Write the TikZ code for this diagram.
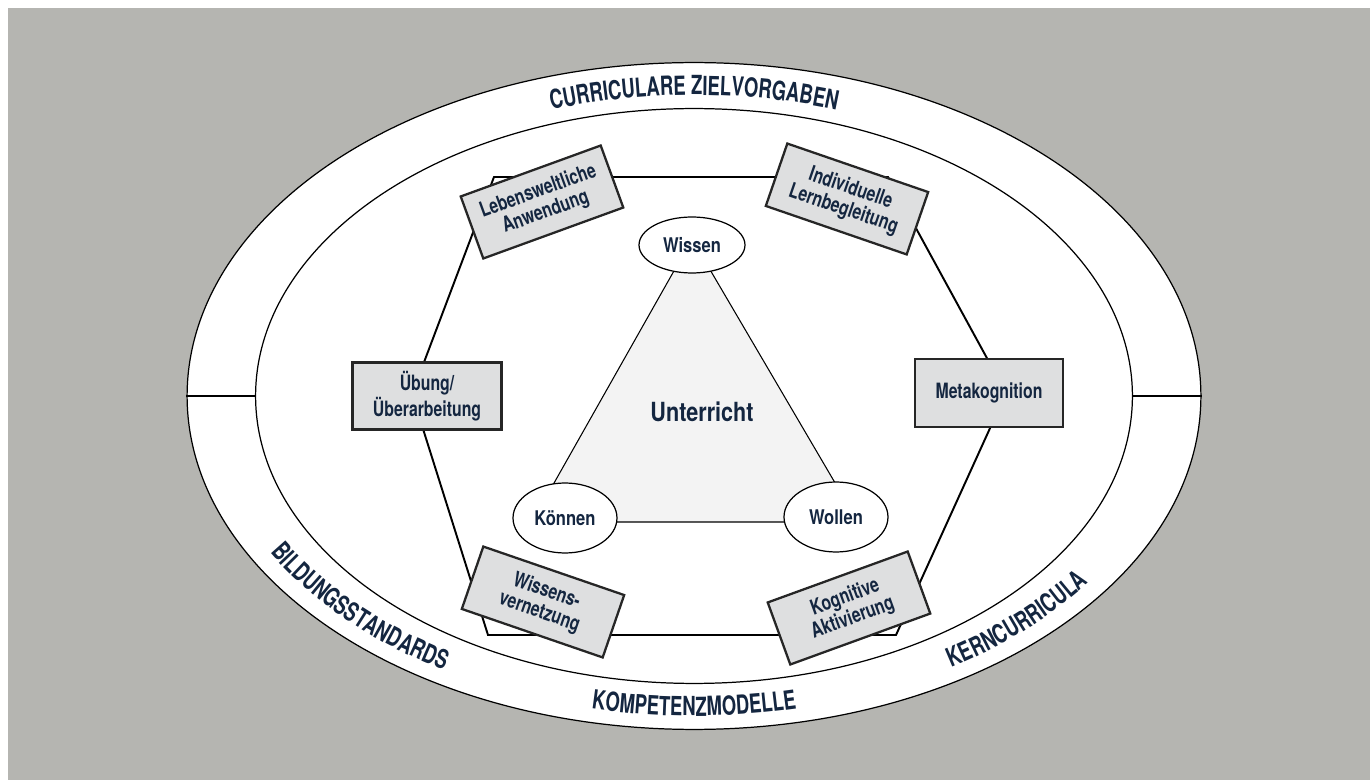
\documentclass[tikz,border=0pt]{standalone}
\usepackage{fontspec}
\setmainfont{TeX Gyre Heros}[FakeStretch=0.82]
\newfontfamily\cardfont{TeX Gyre Heros}[FakeStretch=0.75]
\newfontfamily\ringfont{TeX Gyre Heros}[FakeStretch=0.70]
\usetikzlibrary{shapes.geometric,decorations.text}

\definecolor{ink}{HTML}{142640}
\definecolor{panel}{RGB}{181,181,177}
\definecolor{cardfill}{RGB}{222,223,224}
\definecolor{trifill}{RGB}{243,243,243}
\newcommand{\ringtype}{\ringfont\bfseries\fontsize{15}{16}\selectfont}

\begin{document}
\begin{tikzpicture}[x=0.02cm,y=-0.02cm]
\tikzstyle{card}=[
	draw=black!85,
	line width=1.3pt,
	fill=cardfill,
	minimum width=2.98cm,
	minimum height=1.32cm,
	inner sep=0pt,
	align=center,
	text=ink,
	font=\cardfont\bfseries\fontsize{12}{12.5}\selectfont ]
\tikzstyle{oval}=[
	ellipse,
	draw,
	line width=0.7pt,
	fill=white,
	minimum width=2.08cm,
	minimum height=1.4cm,
	inner sep=0pt,
	text=ink,
	font=\bfseries\fontsize{11.5}{14}\selectfont ]
\tikzstyle{ring}=[ellipse, draw, line width=0.7pt, fill=white, inner sep=0pt]
\tikzstyle{ringlabel}=[decorate, decoration={text along path, text align=center, text color=ink}]

\useasboundingbox (0,0) rectangle (1370,780);
\fill[white] (0,0) rectangle (1370,780);
\fill[panel] (8,8) rectangle (1370,780);

\node[ring, minimum width=20.28cm, minimum height=13.34cm] (outer) at (694,396) {};
\node[ring, minimum width=17.54cm, minimum height=11.5cm] (inner) at (694,396) {};
\draw[line width=0.6pt] (outer.west) -- (inner.west);
\draw[line width=0.6pt] (inner.east) -- (outer.east);

\path[ringlabel, decoration={text={|\ringtype|CURRICULARE ZIELVORGABEN}}]
	(694,396) ++(235:458 and 301) arc[start angle=235, end angle=305, x radius=458, y radius=301];
\path[ringlabel, decoration={text={|\ringtype|BILDUNGSSTANDARDS}}]
	(694,396) ++(168:486 and 320) arc[start angle=168, end angle=108, x radius=486, y radius=320];
\path[ringlabel, decoration={text={|\ringtype|KOMPETENZMODELLE}}]
	(694,396) ++(120:486 and 320) arc[start angle=120, end angle=60, x radius=486, y radius=320];
\path[ringlabel, decoration={text={|\ringtype|KERNCURRICULA}}]
	(694,396) ++(74:486 and 320) arc[start angle=74, end angle=15, x radius=486, y radius=320];

\coordinate (h1) at (494,177);
\coordinate (h2) at (888,177);
\coordinate (h3) at (1006,393);
\coordinate (h4) at (896,635);
\coordinate (h5) at (488,635);
\coordinate (h6) at (412,394);
\draw[line width=1.1pt] (h1) -- (h2) -- (h3) -- (h4) -- (h5) -- (h6) -- cycle;

\coordinate (t1) at (692,239);
\coordinate (t2) at (858,522);
\coordinate (t3) at (532,522);
\draw[fill=trifill, line width=0.6pt] (t1) -- (t2) -- (t3) -- cycle;

\node[card, rotate=20] (lebenswelt) at (542,202) {Lebensweltliche\\Anwendung};
\node[card, rotate=-19] (lernbegleitung) at (847,199) {Individuelle\\Lernbegleitung};
\node[card, minimum width=2.96cm, minimum height=1.36cm] (metakognition) at (989,393) {Metakognition};
\node[card, minimum height=1.34cm] (uebung) at (427,396) {Übung/\\Überarbeitung};
\node[card, rotate=-19] (vernetzung) at (543,602) {Wissens-\\vernetzung};
\node[card, rotate=20] (aktivierung) at (849,608) {Kognitive\\Aktivierung};

\node[oval, minimum width=2.12cm, minimum height=1.12cm] (wissen) at (692,245) {Wissen};
\node[oval] (koennen) at (565,518) {Können};
\node[oval] (wollen) at (836,517) {Wollen};
\node[text=ink, font=\bfseries\fontsize{15}{18}\selectfont] (unterricht) at (702,412) {Unterricht};
\end{tikzpicture}
\end{document}
